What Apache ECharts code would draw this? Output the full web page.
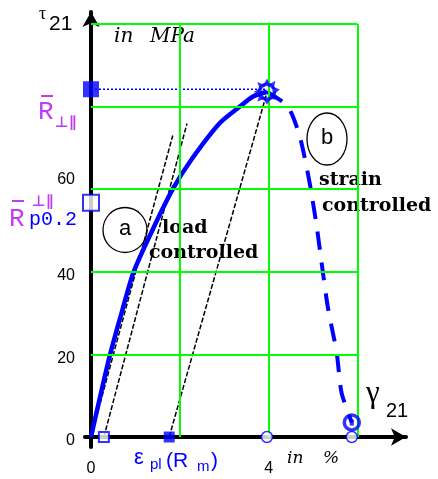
<!DOCTYPE html>
<html>
<head>
<meta charset="utf-8">
<script src="https://cdn.jsdelivr.net/npm/echarts@6/dist/echarts.min.js"></script>
<style>
  html, body { margin: 0; padding: 0; background: #fff; }
  #chart { width: 438px; height: 479px; }
</style>
</head>
<body>
<div id="chart"></div>
<script>
// Shear stress tau21 (MPa) against shear strain gamma21 (%)
const xGridValues = [2, 4, 6];
const yGridValues = [20, 40, 60, 80, 100];
const xTickLabels = [0, 4];
const yTickLabels = [0, 20, 40, 60];

// (a) load controlled branch
const loadCurve = [
  [0, 0], [0.2, 9.5], [0.43, 20], [0.7, 30.5], [0.96, 40], [1.4, 50.5],
  [1.84, 60], [2.25, 67], [2.9, 76], [3.35, 80], [3.64, 82.4], [3.96, 83.6]
];
// (b) strain controlled branch
const strainCurve = [
  [3.96, 83.6], [4.43, 80], [4.7, 72.7], [4.92, 61.6], [5.08, 51],
  [5.19, 42.2], [5.33, 31.5], [5.53, 20.4], [5.64, 10.7], [5.87, 3.5]
];
// unloading lines
const unloadFromOrigin = [[0, 0], [1.84, 73]];
const unloadOffset = [[0.29, 0], [2.16, 75.9]];
const unloadFromPeak = [[1.76, 0], [3.95, 83]];

const strengthRm = 84.2;       // R-bar perp-par
const strengthRp02 = 56.7;     // R-bar p0.2
const peakStrain = 3.96;
const peakStress = 83.6;
const plasticStrain = 1.76;    // eps_pl(R_m)
const offsetStrain = 0.29;
const failureStrain = 5.87;
const failureStress = 3.5;

const BLUE = '#0000ff';
const GREEN = '#00ff00';
const PURPLE = '#c03cf0';

const chart = echarts.init(document.getElementById('chart'), null, { renderer: 'canvas' });

const gridLines = [];
xGridValues.forEach(v => gridLines.push([{ coord: [v, 0] }, { coord: [v, 100] }]));
yGridValues.forEach(v => gridLines.push([{ coord: [0, v] }, { coord: [6, v] }]));

const tickFont = { fontFamily: 'Liberation Sans', fontSize: 16, color: '#000' };

const option = {
  animation: false,
  backgroundColor: '#fff',
  grid: { left: 85, right: 32, top: 12, bottom: 32, containLabel: false, outerBoundsMode: 'none' },
  xAxis: {
    type: 'value', min: -0.135, max: 7.09,
    axisLine: { onZero: true, lineStyle: { color: '#000', width: 4 }, symbol: ['none', 'arrow'], symbolSize: [13, 15] },
    axisTick: { show: false },
    splitLine: { show: false },
    axisLabel: Object.assign({ customValues: xTickLabels, margin: 14, formatter: v => String(v) }, tickFont)
  },
  yAxis: {
    type: 'value', min: -2.42, max: 102.9,
    axisLine: { onZero: true, lineStyle: { color: '#000', width: 4 }, symbol: ['none', 'arrow'], symbolSize: [13, 15] },
    axisTick: { show: false },
    splitLine: { show: false },
    axisLabel: Object.assign({
      customValues: yTickLabels, margin: 10,
      formatter: v => (v === 60 ? '{up|60}' : '{dn|' + v + '}'),
      rich: {
        up: Object.assign({ padding: [0, 0, 20, 0] }, tickFont),
        dn: Object.assign({ padding: [8, 0, 0, 0] }, tickFont)
      }
    }, tickFont)
  },
  graphic: [
    // white boxes behind the annotations
    { type: 'rect', z: 1.5, shape: { x: 110, y: 28, width: 98, height: 32 }, style: { fill: '#fff' } },
    { type: 'rect', z: 1.5, shape: { x: 148, y: 202, width: 118, height: 68 }, style: { fill: '#fff' } },
    { type: 'rect', z: 1.5, shape: { x: 316, y: 165, width: 120, height: 62 }, style: { fill: '#fff' } },

    // axis titles
    { type: 'text', z: 1.6, style: { x: 39, y: 5, text: 'τ', font: '18px "Liberation Serif"', fill: '#000' } },
    { type: 'text', z: 1.6, style: { x: 49, y: 14, text: '21', font: '21px "Liberation Sans"', fill: '#000' } },
    { type: 'text', z: 1.6, style: { x: 366, y: 378, text: 'γ', font: '31px "Liberation Serif"', fill: '#000' } },
    { type: 'text', z: 1.6, style: { x: 386, y: 401, text: '21', font: '20px "Liberation Sans"', fill: '#000' } },
    { type: 'text', z: 1.6, style: { x: 114, y: 27, text: 'in', font: 'italic 20px "DejaVu Serif"', fill: '#000' } },
    { type: 'text', z: 1.6, style: { x: 150, y: 27, text: 'MPa', font: 'italic 20px "DejaVu Serif"', fill: '#000' } },
    { type: 'text', z: 1.6, style: { x: 287, y: 450, text: 'in', font: 'italic 17px "DejaVu Serif"', fill: '#000' } },
    { type: 'text', z: 1.6, style: { x: 323, y: 450, text: '%', font: 'italic 17px "DejaVu Serif"', fill: '#000' } },

    // R-bar perp-par (strength)
    { type: 'text', z: 1.6, style: { x: 38, y: 99, text: 'R', font: '26px "Liberation Mono"', fill: PURPLE } },
    { type: 'line', z: 1.6, shape: { x1: 41, y1: 96, x2: 53, y2: 96 }, style: { stroke: PURPLE, lineWidth: 2 } },
    { type: 'text', z: 1.6, style: { x: 55, y: 116, text: '⊥∥', font: 'bold 15px "DejaVu Sans"', fill: PURPLE } },

    // R-bar p0.2
    { type: 'text', z: 1.6, style: { x: 9, y: 206, text: 'R', font: '26px "Liberation Mono"', fill: PURPLE } },
    { type: 'line', z: 1.6, shape: { x1: 12, y1: 201, x2: 24, y2: 201 }, style: { stroke: PURPLE, lineWidth: 2 } },
    { type: 'text', z: 1.6, style: { x: 32, y: 195, text: '⊥∥', font: 'bold 15px "DejaVu Sans"', fill: PURPLE } },
    { type: 'text', z: 1.6, style: { x: 29, y: 210, text: 'p0.2', font: '20px "Liberation Mono"', fill: BLUE } },

    // eps_pl(R_m)
    { type: 'text', z: 1.6, style: { x: 134, y: 447, text: 'ε', font: '22px "Liberation Sans"', fill: BLUE } },
    { type: 'text', z: 1.6, style: { x: 150, y: 457, text: 'pl', font: '15px "Liberation Sans"', fill: BLUE } },
    { type: 'text', z: 1.6, style: { x: 166, y: 451, text: '(R', font: '21px "Liberation Sans"', fill: BLUE } },
    { type: 'text', z: 1.6, style: { x: 197, y: 459, text: 'm', font: '15px "Liberation Sans"', fill: BLUE } },
    { type: 'text', z: 1.6, style: { x: 211, y: 451, text: ')', font: '21px "Liberation Sans"', fill: BLUE } },

    // branch markers
    { type: 'ellipse', z: 1.6, shape: { cx: 125, cy: 230, rx: 22, ry: 22.5 }, style: { fill: null, stroke: '#000', lineWidth: 1.3 } },
    { type: 'text', z: 1.6, style: { x: 125, y: 229, text: 'a', font: '22px "Liberation Sans"', fill: '#000', align: 'center', verticalAlign: 'middle' } },
    { type: 'ellipse', z: 1.6, shape: { cx: 327, cy: 139, rx: 20, ry: 26 }, style: { fill: null, stroke: '#000', lineWidth: 1.3 } },
    { type: 'text', z: 1.6, style: { x: 327, y: 138, text: 'b', font: '22px "Liberation Sans"', fill: '#000', align: 'center', verticalAlign: 'middle' } },

    { type: 'text', z: 1.6, style: { x: 162, y: 219, text: 'load', font: 'bold 19px "DejaVu Serif"', fill: '#000' } },
    { type: 'text', z: 1.6, style: { x: 149, y: 244, text: 'controlled', font: 'bold 19px "DejaVu Serif"', fill: '#000' } },
    { type: 'text', z: 1.6, style: { x: 319, y: 171, text: 'strain', font: 'bold 19px "DejaVu Serif"', fill: '#000' } },
    { type: 'text', z: 1.6, style: { x: 322, y: 197, text: 'controlled', font: 'bold 19px "DejaVu Serif"', fill: '#000' } }
  ],
  series: [
    {
      name: 'grid', type: 'line', data: [], z: 1, silent: true,
      markLine: {
        silent: true, symbol: ['none', 'none'], label: { show: false },
        lineStyle: { color: GREEN, width: 2, type: 'solid' },
        emphasis: { disabled: true },
        data: gridLines
      }
    },
    {
      name: 'unload0', type: 'line', data: unloadFromOrigin, z: 3, showSymbol: false, silent: true,
      lineStyle: { color: '#000', width: 1.5, type: [5, 2] }
    },
    {
      name: 'unload1', type: 'line', data: unloadOffset, z: 3, showSymbol: false, silent: true,
      lineStyle: { color: '#000', width: 1.5, type: [5, 2] }
    },
    {
      name: 'unload2', type: 'line', data: unloadFromPeak, z: 3, showSymbol: false, silent: true,
      lineStyle: { color: '#000', width: 1.5, type: [5, 2] }
    },
    {
      name: 'Rm', type: 'line', data: [[0, strengthRm], [peakStrain, strengthRm]], z: 3, showSymbol: false, silent: true,
      lineStyle: { color: BLUE, width: 1.5, type: [2, 2] }
    },
    {
      name: 'load controlled', type: 'line', data: loadCurve, z: 4, showSymbol: false,
      smooth: 0.25, silent: true,
      lineStyle: { color: BLUE, width: 4.5 }
    },
    {
      name: 'strain controlled', type: 'line', data: strainCurve, z: 4, showSymbol: false,
      smooth: 0.25, silent: true,
      lineStyle: { color: BLUE, width: 4, type: [18, 13] }
    },
    {
      name: 'filled squares', type: 'scatter', z: 5, silent: true, symbol: 'rect',
      itemStyle: { color: BLUE },
      data: [
        { value: [0, strengthRm], symbolSize: 16 },
        { value: [plasticStrain, 0], symbolSize: 11 }
      ]
    },
    {
      name: 'open squares', type: 'scatter', z: 5, silent: true, symbol: 'rect',
      itemStyle: { color: '#fff', borderColor: BLUE, borderWidth: 2 },
      data: [
        { value: [0, strengthRp02], symbolSize: 16 },
        { value: [offsetStrain, 0], symbolSize: 10 }
      ]
    },
    {
      name: 'open circles', type: 'scatter', z: 5, silent: true, symbol: 'circle', symbolSize: 11,
      itemStyle: { color: '#fff', borderColor: BLUE, borderWidth: 1.5 },
      data: [[peakStrain, 0], [failureStrain, 0]]
    },
    {
      name: 'peak', type: 'scatter', z: 6, silent: true, symbol: 'circle', symbolSize: 15,
      itemStyle: { color: 'rgba(0,0,0,0)', borderColor: BLUE, borderWidth: 3.5 },
      data: [[peakStrain, peakStress], [failureStrain, failureStress]]
    },
    {
      name: 'peak spikes', type: 'scatter', z: 6, silent: true,
      symbol: 'path://M0,-11L2,-6L7,-9L6,-4L11,-2L6,2L9,7L3,6L0,11L-3,6L-8,8L-6,2L-11,0L-6,-3L-8,-8L-3,-6Z',
      symbolSize: 22,
      itemStyle: { color: 'rgba(0,0,0,0)', borderColor: BLUE, borderWidth: 2 },
      data: [[peakStrain, peakStress]]
    },
    {
      name: 'failure dot', type: 'scatter', z: 6, silent: true, symbol: 'rect', symbolSize: [4, 6],
      itemStyle: { color: BLUE },
      data: [[failureStrain, failureStress]]
    }
  ]
};

chart.setOption(option);
</script>
</body>
</html>
